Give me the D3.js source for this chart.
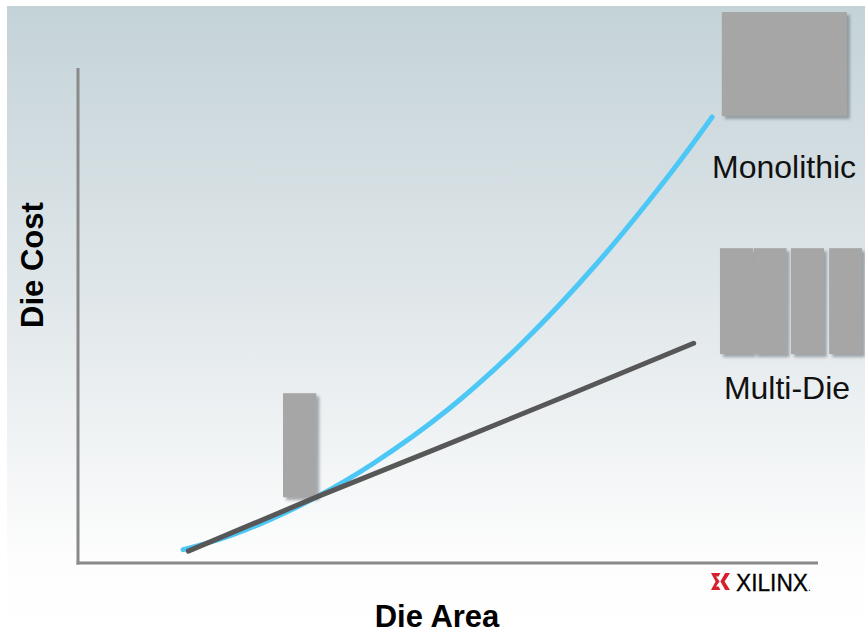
<!DOCTYPE html>
<html>
<head>
<meta charset="utf-8">
<script src="https://cdn.jsdelivr.net/npm/d3@7"></script>
<style>
  html, body { margin: 0; padding: 0; background: #fff; }
  svg { display: block; font-family: "Liberation Sans", Arial, sans-serif; }
</style>
</head>
<body>
<svg id="chart" width="865" height="634"></svg>
<script>
// Die cost versus die area: one monolithic die against a multi-die package
const dieAreaMono = [1.42, 2.0, 2.6, 3.22, 4.0, 5.0, 6.0, 7.0, 8.0, 8.57];
const costMono    = [0.27, 0.52, 0.88, 1.33, 2.02, 3.10, 4.44, 6.03, 7.86, 9.01];

const dieAreaMulti = [1.49, 3.22, 4.90, 6.62, 8.32];
const costMulti    = [0.24, 1.33, 2.34, 3.39, 4.44];

const seriesLabels = ["Monolithic", "Multi-Die"];
const axisTitles = { x: "Die Area", y: "Die Cost" };

const W = 865, H = 634;
const svg = d3.select("#chart");
const defs = svg.append("defs");

// slide background: blue-grey at the top fading to white
const grad = defs.append("linearGradient")
  .attr("id", "bg").attr("x1", 0).attr("y1", 0).attr("x2", 0).attr("y2", 1);
grad.append("stop").attr("offset", "0%").attr("stop-color", "#c4d3d8");
grad.append("stop").attr("offset", "45%").attr("stop-color", "#dfe6e9");
grad.append("stop").attr("offset", "88%").attr("stop-color", "#fdfdfd");
grad.append("stop").attr("offset", "100%").attr("stop-color", "#ffffff");

const shadow = defs.append("filter").attr("id", "shadow")
  .attr("x", "-20%").attr("y", "-20%").attr("width", "140%").attr("height", "140%");
shadow.append("feDropShadow")
  .attr("dx", 3).attr("dy", 3).attr("stdDeviation", 1.6)
  .attr("flood-color", "#5f6b70").attr("flood-opacity", 0.55);

svg.append("rect").attr("x", 7).attr("y", 6)
  .attr("width", W - 7).attr("height", H - 6).attr("fill", "url(#bg)");

// plot area
const x = d3.scaleLinear().domain([0, 10]).range([78, 818]);
const y = d3.scaleLinear().domain([0, 10]).range([563, 68]);

// axes: plain lines without ticks
svg.append("line")
  .attr("x1", x(0)).attr("x2", x(0)).attr("y1", y(10)).attr("y2", y(0) + 1.5)
  .attr("stroke", "#8a8a8a").attr("stroke-width", 3);
svg.append("line")
  .attr("x1", x(0) - 1.5).attr("x2", x(10)).attr("y1", y(0)).attr("y2", y(0))
  .attr("stroke", "#8a8a8a").attr("stroke-width", 3);

// die illustrations, placed in chart units
const dieFill = "#a6a6a6";
function die(x0, x1, y0, y1) {
  svg.append("rect")
    .attr("x", x(x0)).attr("y", y(y1))
    .attr("width", x(x1) - x(x0)).attr("height", y(y0) - y(y1))
    .attr("fill", dieFill).attr("filter", "url(#shadow)");
}
// small die sitting on the crossover point
die(2.77, 3.22, 1.33, 3.43);
// large monolithic die
die(8.70, 10.39, 9.03, 11.13);
// four dies of the multi-die package
const sliceStarts = [8.675, 9.13, 9.635, 10.15];
sliceStarts.forEach(s => die(s, s + 0.445, 4.22, 6.36));

// cost curves
const line = d3.line().x(d => x(d[0])).y(d => y(d[1]));
svg.append("path")
  .datum(d3.zip(dieAreaMono, costMono))
  .attr("d", line.curve(d3.curveCatmullRom.alpha(0.5)))
  .attr("fill", "none").attr("stroke", "#4dc8f6")
  .attr("stroke-width", 5).attr("stroke-linecap", "round");

svg.append("path")
  .datum(d3.zip(dieAreaMulti, costMulti))
  .attr("d", d3.line().x(d => x(d[0])).y(d => y(d[1])))
  .attr("fill", "none").attr("stroke", "#575757")
  .attr("stroke-width", 5).attr("stroke-linecap", "round");

// series labels beside the die pictures
svg.append("text").text(seriesLabels[0])
  .attr("x", 784).attr("y", 178).attr("text-anchor", "middle")
  .attr("font-size", 32).attr("fill", "#111");
svg.append("text").text(seriesLabels[1])
  .attr("x", 787).attr("y", 399).attr("text-anchor", "middle")
  .attr("font-size", 32).attr("fill", "#111");

// axis titles
svg.append("text").text(axisTitles.x)
  .attr("x", 437).attr("y", 627).attr("text-anchor", "middle")
  .attr("font-size", 31).attr("font-weight", "bold").attr("fill", "#000");
svg.append("text").text(axisTitles.y)
  .attr("transform", "translate(43,265) rotate(-90)")
  .attr("text-anchor", "middle")
  .attr("font-size", 31).attr("font-weight", "bold").attr("fill", "#000");

// company mark in the corner
const logo = svg.append("g").attr("transform", "translate(711,573)");
logo.append("path")
  .attr("d", "M0,0 H9.5 L7.5,3.6 H5 L8.6,8.5 L5,13.4 H7.5 L9.5,17 H0 L4.6,8.5 Z")
  .attr("fill", "#d8202c");
logo.append("path")
  .attr("d", "M19,0 H14.2 L9.4,8.5 L14.2,17 H19 L13.6,8.5 Z")
  .attr("fill", "#d8202c");
svg.append("text").text("XILINX")
  .attr("x", 736).attr("y", 591)
  .attr("font-size", 23).attr("textLength", 72).attr("lengthAdjust", "spacingAndGlyphs")
  .attr("stroke", "#000").attr("stroke-width", 0.3)
  .attr("fill", "#000");
svg.append("text").text(".")
  .attr("x", 808).attr("y", 591).attr("font-size", 10).attr("fill", "#000");
</script>
</body>
</html>
